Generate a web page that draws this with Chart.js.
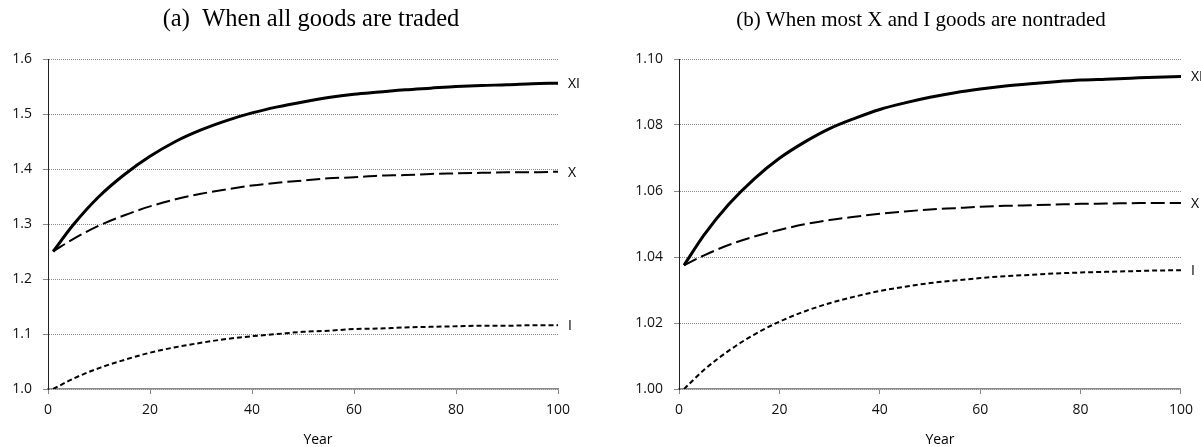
<!DOCTYPE html>
<html>
<head>
<meta charset="utf-8">
<script src="https://cdn.jsdelivr.net/npm/chart.js@4.4.1/dist/chart.umd.min.js"></script>
<style>
  body { margin: 0; background: #fff; }
  #wrap { position: relative; width: 1201px; height: 447px; }
  canvas { position: absolute; top: 0; }
  #chartA { left: 0; }
  #chartB { left: 600px; }
</style>
</head>
<body>
<div id="wrap">
  <canvas id="chartA" width="600" height="447"></canvas>
  <canvas id="chartB" width="601" height="447"></canvas>
</div>
<script>
const years = [1, 5, 10, 15, 20, 25, 30, 35, 40, 45, 50, 55, 60, 65, 70, 75, 80, 85, 90, 95, 100];
const xTicks = [0, 20, 40, 60, 80, 100];
const seriesNames = ['XI', 'X', 'I'];

// (a) all goods traded
const tradedXI = [1.250, 1.299, 1.350, 1.390, 1.423, 1.450, 1.471, 1.488, 1.502, 1.513, 1.522,
                  1.530, 1.536, 1.540, 1.544, 1.547, 1.550, 1.552, 1.553, 1.555, 1.556];
const tradedX  = [1.250, 1.273, 1.297, 1.316, 1.332, 1.345, 1.355, 1.363, 1.370, 1.375, 1.379,
                  1.383, 1.385, 1.388, 1.389, 1.391, 1.392, 1.393, 1.394, 1.394, 1.395];
const tradedI  = [1.000, 1.019, 1.038, 1.053, 1.066, 1.076, 1.084, 1.091, 1.096, 1.100, 1.104,
                  1.106, 1.109, 1.110, 1.112, 1.113, 1.114, 1.115, 1.115, 1.116, 1.116];
const tradedYTicks = [1.0, 1.1, 1.2, 1.3, 1.4, 1.5, 1.6];

// (b) most X and I goods nontraded
const nontradedXI = [1.0375, 1.0467, 1.0561, 1.0637, 1.0699, 1.0748, 1.0789, 1.0820, 1.0847, 1.0867, 1.0884,
                     1.0898, 1.0909, 1.0918, 1.0925, 1.0931, 1.0936, 1.0939, 1.0942, 1.0945, 1.0947];
const nontradedX  = [1.0375, 1.0405, 1.0437, 1.0462, 1.0482, 1.0499, 1.0512, 1.0522, 1.0531, 1.0538, 1.0544,
                     1.0548, 1.0552, 1.0555, 1.0557, 1.0559, 1.0561, 1.0562, 1.0563, 1.0564, 1.0564];
const nontradedI  = [1.0000, 1.0058, 1.0117, 1.0165, 1.0204, 1.0235, 1.0260, 1.0280, 1.0297, 1.0310, 1.0321,
                     1.0329, 1.0336, 1.0342, 1.0346, 1.0350, 1.0353, 1.0355, 1.0357, 1.0359, 1.0360];
const nontradedYTicks = [1.00, 1.02, 1.04, 1.06, 1.08, 1.10];

const lineStyles = [
    { borderWidth: 3, borderDash: [] },
    { borderWidth: 2, borderDash: [14, 5] },
    { borderWidth: 2, borderDash: [5, 3] }
];

const tickFont = { family: '"Open Sans", sans-serif', size: 14 };

// title, "Year" and the series names at the line ends
const panelText = {
    id: 'panelText',
    afterDraw(chart, args, opts) {
        const ctx = chart.ctx;
        const area = chart.chartArea;
        ctx.save();
        ctx.fillStyle = '#000';
        ctx.textBaseline = 'middle';
        ctx.textAlign = 'center';
        ctx.font = opts.titleSize + 'px "Liberation Serif", "Times New Roman", serif';
        ctx.fillText(opts.title, opts.titleX, 20);
        ctx.font = '14px "Open Sans", sans-serif';
        ctx.fillText('Year', (area.left + area.right) / 2 + opts.yearShift, 440);
        ctx.font = '14px "Open Sans", sans-serif';
        ctx.textAlign = 'left';
        chart.data.datasets.forEach((ds, i) => {
            const pts = chart.getDatasetMeta(i).data;
            const last = pts[pts.length - 1];
            ctx.fillText(ds.label, last.x + 10, last.y + 1);
        });
        ctx.restore();
    }
};

function makeChart(canvasId, series, yTicks, decimals, panel) {
    const ctx = document.getElementById(canvasId).getContext('2d');
    return new Chart(ctx, {
        type: 'line',
        data: {
            datasets: series.map((values, i) => ({
                label: seriesNames[i],
                data: values.map((v, j) => ({ x: years[j], y: v })),
                borderColor: '#000',
                borderWidth: lineStyles[i].borderWidth,
                borderDash: lineStyles[i].borderDash,
                pointRadius: 0,
                fill: false,
                cubicInterpolationMode: 'monotone'
            }))
        },
        options: {
            responsive: false,
            animation: false,
            events: [],
            layout: { padding: { top: 59, right: panel.padRight, bottom: 0, left: 0 } },
            plugins: {
                legend: { display: false },
                tooltip: { enabled: false },
                title: { display: false },
                panelText: panel
            },
            scales: {
                x: {
                    type: 'linear',
                    min: xTicks[0],
                    max: xTicks[xTicks.length - 1],
                    afterBuildTicks: s => { s.ticks = xTicks.map(v => ({ value: v })); },
                    afterFit: s => { s.height = 58; },
                    grid: { drawOnChartArea: false, drawTicks: true, tickLength: 5, tickColor: '#888', tickWidth: 1 },
                    border: { display: true, color: '#8a8a8a', width: 1.5 },
                    ticks: { color: '#111', font: tickFont, padding: 8, maxRotation: 0, autoSkip: false }
                },
                y: {
                    type: 'linear',
                    min: yTicks[0],
                    max: yTicks[yTicks.length - 1],
                    afterBuildTicks: s => { s.ticks = yTicks.map(v => ({ value: v })); },
                    afterFit: s => { s.width = panel.yWidth; },
                    grid: { color: '#8a8a8a', lineWidth: 1, drawTicks: true, tickLength: 5, tickColor: '#888', tickBorderDash: [] },
                    border: { display: true, color: '#222', width: 1, dash: [1, 1] },
                    ticks: { color: '#111', font: tickFont, padding: 11, callback: v => Number(v).toFixed(decimals) }
                }
            }
        },
        plugins: [panelText]
    });
}

makeChart('chartA', [tradedXI, tradedX, tradedI], tradedYTicks, 1, {
    title: '(a)  When all goods are traded', titleSize: 24.5, titleX: 311, yearShift: 15, yWidth: 48, padRight: 42
});
makeChart('chartB', [nontradedXI, nontradedX, nontradedI], nontradedYTicks, 2, {
    title: '(b) When most X and I goods are nontraded', titleSize: 21, titleX: 321, yearShift: 10, yWidth: 79, padRight: 20
});
</script>
</body>
</html>
